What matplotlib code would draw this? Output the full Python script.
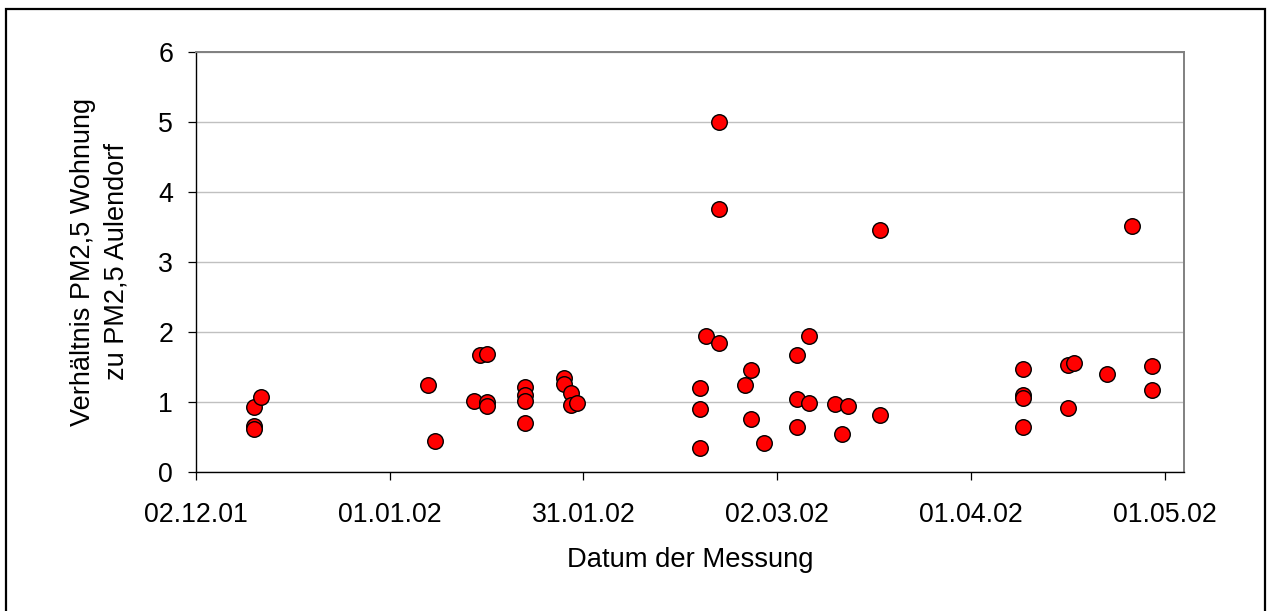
import matplotlib
matplotlib.use("Agg")
import matplotlib.pyplot as plt
import matplotlib.dates as mdates
from matplotlib.lines import Line2D
import numpy as np
import pandas as pd

# Messdaten: Datum und Verhältnis PM2,5 Wohnung / PM2,5 Aulendorf
dates = [
    "2001-12-11", "2001-12-11", "2001-12-11", "2001-12-12",
    "2002-01-07", "2002-01-08",
    "2002-01-14", "2002-01-15", "2002-01-16", "2002-01-16", "2002-01-16",
    "2002-01-22", "2002-01-22", "2002-01-22", "2002-01-22",
    "2002-01-28", "2002-01-28", "2002-01-29", "2002-01-29", "2002-01-30",
    "2002-02-18", "2002-02-18", "2002-02-18", "2002-02-19",
    "2002-02-21", "2002-02-21", "2002-02-21",
    "2002-02-25", "2002-02-26", "2002-02-26", "2002-02-28",
    "2002-03-05", "2002-03-05", "2002-03-05", "2002-03-07", "2002-03-07",
    "2002-03-11", "2002-03-12", "2002-03-13", "2002-03-18", "2002-03-18",
    "2002-04-09", "2002-04-09", "2002-04-09", "2002-04-09",
    "2002-04-16", "2002-04-16", "2002-04-17", "2002-04-22", "2002-04-26",
    "2002-04-29", "2002-04-29",
]
ratios = [
    0.93, 0.66, 0.62, 1.07,
    1.25, 0.45,
    1.02, 1.67, 1.69, 1.00, 0.94,
    1.22, 1.10, 1.01, 0.70,
    1.34, 1.26, 1.13, 0.96, 0.99,
    1.20, 0.90, 0.35, 1.94,
    5.00, 3.76, 1.84,
    1.25, 1.46, 0.76, 0.41,
    1.67, 1.04, 0.64, 1.95, 0.99,
    0.97, 0.54, 0.95, 3.46, 0.81,
    1.47, 1.10, 1.06, 0.65,
    1.53, 0.91, 1.56, 1.40, 3.52,
    1.51, 1.17,
]
x_ticks = ["2001-12-02", "2002-01-01", "2002-01-31", "2002-03-02", "2002-04-01", "2002-05-01"]
x_range = ["2001-12-02", "2002-05-04"]
y_ticks = [0, 1, 2, 3, 4, 5, 6]

plt.rcParams["font.family"] = ["Liberation Sans", "DejaVu Sans"]
FS = 19.3

W, H = 1269, 611
fig = plt.figure(figsize=(W / 100, H / 100), dpi=100)
fig.patch.set_facecolor("white")

L, R, T, B = 196, 1184, 52, 472
ax = fig.add_axes([L / W, 1 - B / H, (R - L) / W, (B - T) / H])

d = pd.to_datetime(dates)
ax.plot(d, ratios, linestyle="none", marker="o", markersize=11.2,
        markerfacecolor="#ff0000", markeredgecolor="black",
        markeredgewidth=1.0, zorder=3, clip_on=False)

ax.set_xlim(pd.to_datetime(x_range[0]), pd.to_datetime(x_range[1]))
ax.set_ylim(0, 6)
ax.set_xticks(pd.to_datetime(x_ticks))
ax.xaxis.set_major_formatter(mdates.DateFormatter("%d.%m.%y"))
ax.set_yticks(y_ticks)

ax.yaxis.grid(True, color="#c0c0c0", linewidth=1.0)
ax.set_axisbelow(True)

for side in ("left", "bottom"):
    ax.spines[side].set_color("black")
    ax.spines[side].set_linewidth(1.0)
for side in ("top", "right"):
    ax.spines[side].set_color("#808080")
    ax.spines[side].set_linewidth(1.4)

ax.tick_params(axis="x", direction="out", length=6, width=0.9,
               labelsize=FS, pad=15.5, colors="black")
ax.tick_params(axis="y", direction="out", length=6, width=0.9,
               labelsize=FS, pad=10.5, colors="black")

fig.text(100 / W, 1 - 262 / H, "Verhältnis PM2,5 Wohnung\nzu PM2,5 Aulendorf",
         rotation=90, ha="center", va="center", multialignment="center",
         fontsize=FS + 0.2, linespacing=1.35)
fig.text((L + R) / 2 / W, 1 - 567 / H, "Datum der Messung",
         ha="center", va="baseline", fontsize=FS + 0.4)

# Rahmen um die gesamte Grafik
fx = [6 / W, 6 / W, 1265 / W, 1265 / W]
fy = [-0.1, 1 - 9 / H, 1 - 9 / H, -0.1]
fig.add_artist(Line2D(fx, fy, transform=fig.transFigure, color="black",
                      linewidth=1.6, solid_joinstyle="miter"))

fig.savefig("out.png", dpi=100, facecolor="white")
